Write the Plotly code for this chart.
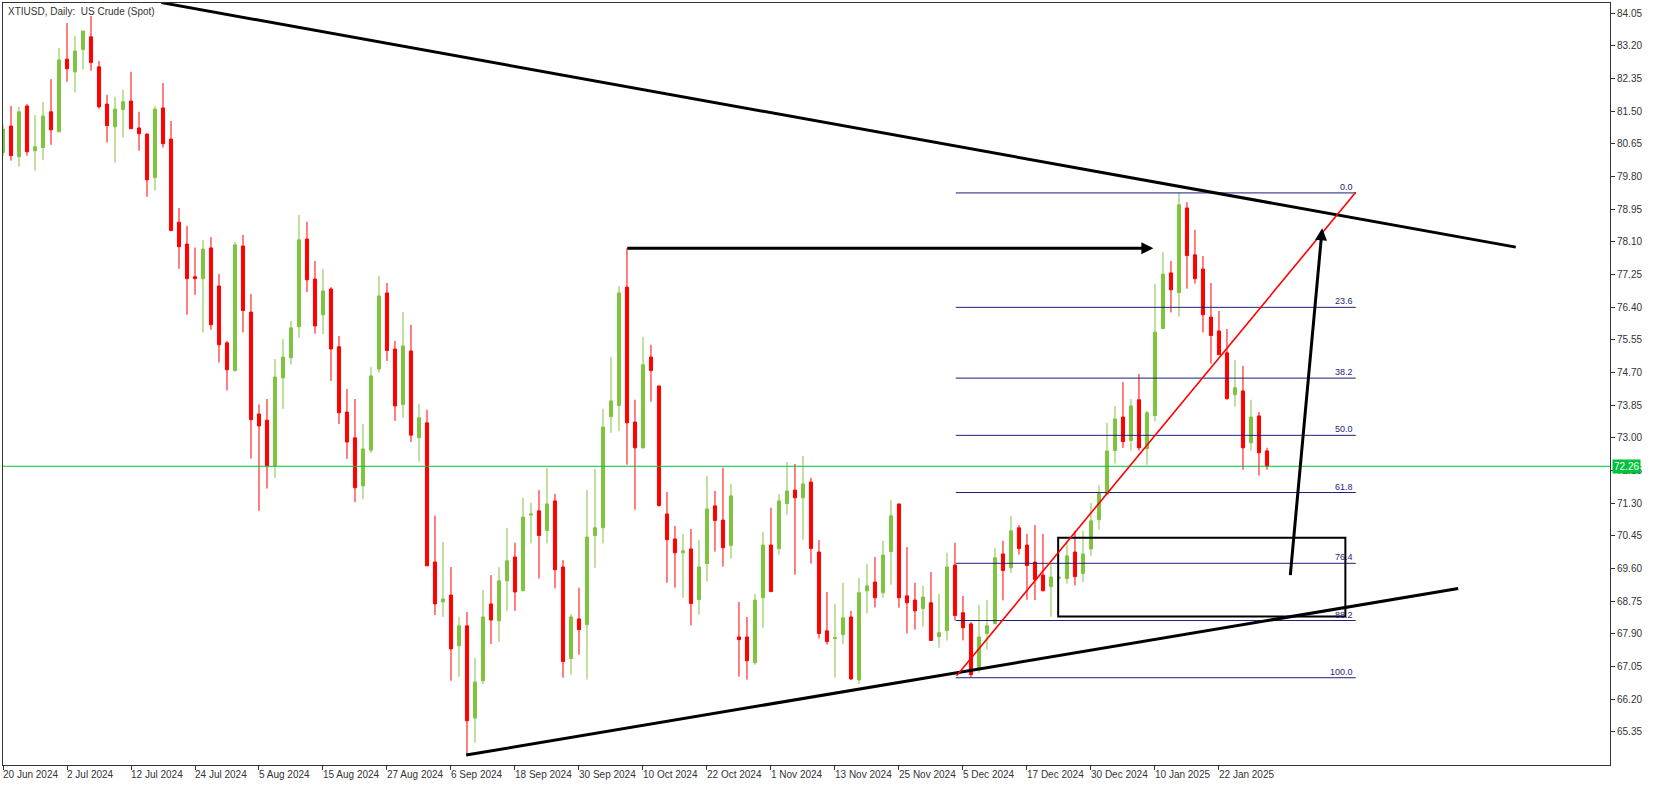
import plotly.graph_objects as go

# ---------------- data ----------------
opens = [80.42, 81.11, 80.31, 81.63, 80.47, 80.55, 81.48, 80.96, 82.85, 82.52,
         83.10, 83.43, 82.65, 81.68, 81.09, 81.54, 81.76, 81.06, 80.90, 79.77,
         81.58, 80.77, 78.61, 78.04, 77.19, 77.14, 77.94, 76.95, 75.47, 74.75,
         77.99, 76.27, 73.62, 73.46, 72.27, 74.56, 75.08, 75.89, 78.17, 77.13,
         76.20, 76.87, 75.37, 73.67, 73.00, 71.75, 72.68, 74.79, 76.77, 75.31,
         73.87, 75.26, 73.00, 73.39, 69.77, 68.73, 68.91, 67.59, 68.11, 65.71,
         66.68, 68.68, 68.24, 69.28, 69.90, 69.02, 70.99, 71.10, 70.59, 71.36,
         69.64, 67.26, 68.29, 68.14, 70.46, 70.66, 73.55, 73.84, 76.92, 73.41,
         72.74, 75.10, 74.35, 71.02, 70.37, 70.01, 70.11, 68.79, 69.73, 71.23,
         70.86, 70.20, 67.82, 67.82, 67.15, 68.84, 70.21, 70.12, 71.29, 71.64,
         71.44, 71.85, 70.03, 67.98, 67.78, 67.88, 68.34, 66.70, 69.02, 69.25,
         68.97, 70.04, 71.28, 68.89, 68.78, 68.56, 68.71, 67.83, 67.99, 69.69,
         68.45, 68.16, 67.00, 67.91, 68.17, 69.98, 69.62, 70.66, 70.21, 69.77,
         69.43, 69.13, 69.35, 69.34, 70.03, 69.47, 70.11, 70.87, 71.53, 72.67,
         73.54, 72.93, 73.99, 72.72, 73.58, 75.84, 77.29, 76.78, 78.98, 77.76,
         77.39, 76.14, 75.78, 75.21, 74.12, 74.22, 72.87, 73.57, 72.66]
highs = [81.14, 81.63, 81.61, 81.68, 81.40, 81.74, 82.33, 83.14, 83.79, 83.45,
         83.58, 83.97, 82.80, 81.92, 81.87, 82.05, 82.52, 81.48, 80.92, 81.63,
         82.23, 81.24, 78.98, 78.51, 77.95, 78.15, 78.22, 77.26, 75.52, 78.09,
         78.28, 76.74, 73.87, 74.01, 75.05, 75.57, 76.04, 78.80, 78.62, 77.60,
         77.39, 76.92, 75.65, 74.27, 74.01, 73.36, 74.84, 77.21, 77.03, 75.52,
         76.27, 75.94, 73.88, 73.73, 70.98, 70.29, 69.64, 68.34, 68.47, 67.27,
         69.04, 69.43, 69.64, 70.66, 70.27, 71.44, 71.31, 71.64, 72.22, 71.54,
         69.82, 68.42, 69.10, 71.64, 72.19, 73.75, 75.10, 76.95, 77.93, 73.99,
         75.62, 75.42, 74.35, 71.59, 70.71, 70.50, 70.63, 70.34, 72.01, 71.62,
         72.22, 71.80, 68.73, 68.34, 68.94, 70.55, 71.18, 71.54, 72.37, 72.32,
         72.53, 71.96, 70.34, 68.99, 68.68, 69.23, 68.50, 69.35, 69.72, 69.90,
         70.32, 71.38, 71.28, 70.16, 69.23, 69.15, 69.51, 68.94, 70.01, 70.27,
         68.89, 68.21, 68.65, 68.78, 70.14, 70.32, 70.97, 70.73, 70.50, 70.73,
         70.50, 69.72, 69.40, 70.32, 70.58, 70.59, 71.31, 71.76, 73.39, 73.83,
         74.45, 74.01, 74.66, 73.70, 77.00, 77.83, 77.60, 79.37, 79.13, 78.41,
         77.73, 77.03, 76.30, 75.83, 75.03, 74.87, 73.99, 73.67, 72.74]
lows = [80.33, 80.21, 80.05, 80.34, 79.95, 80.23, 80.62, 80.95, 82.26, 81.98,
        82.58, 82.55, 81.56, 80.68, 80.16, 80.81, 81.04, 80.47, 79.27, 79.43,
        80.55, 78.39, 77.40, 76.20, 76.72, 75.74, 75.81, 74.96, 74.23, 74.72,
        75.74, 72.46, 71.10, 71.68, 71.96, 73.75, 74.90, 75.60, 76.79, 75.71,
        75.70, 74.48, 73.36, 72.45, 71.33, 71.41, 72.61, 74.70, 75.00, 73.44,
        73.52, 72.89, 72.38, 69.67, 68.39, 68.34, 66.68, 66.78, 64.75, 65.07,
        66.60, 67.64, 67.69, 68.50, 68.50, 69.02, 70.25, 69.34, 70.25, 69.08,
        66.76, 66.84, 67.36, 66.71, 69.62, 70.25, 73.13, 73.18, 72.30, 71.13,
        72.72, 73.94, 71.21, 69.23, 69.10, 68.84, 68.12, 68.40, 69.26, 70.04,
        69.65, 69.86, 66.79, 66.71, 67.10, 68.06, 69.00, 69.96, 71.00, 69.44,
        70.35, 69.73, 67.78, 67.62, 66.76, 67.63, 66.70, 66.60, 68.43, 68.59,
        68.84, 69.18, 68.58, 67.91, 68.01, 68.09, 67.73, 67.54, 67.73, 68.25,
        67.73, 66.76, 66.89, 67.49, 68.14, 68.77, 69.49, 69.96, 68.79, 68.78,
        69.02, 68.35, 69.33, 69.21, 69.16, 69.25, 69.93, 70.61, 71.53, 72.33,
        72.74, 72.67, 72.67, 72.30, 73.42, 75.84, 76.26, 76.15, 76.88, 77.01,
        75.74, 74.93, 75.16, 73.99, 73.81, 72.17, 72.67, 72.02, 72.17]
closes = [81.03, 80.34, 81.48, 80.44, 80.57, 81.37, 81.01, 82.83, 82.60, 83.06,
          83.58, 82.76, 81.61, 81.12, 81.55, 81.74, 81.04, 80.91, 79.71, 81.55,
          80.65, 78.39, 77.97, 77.14, 77.14, 77.91, 75.94, 75.42, 74.77, 78.02,
          76.31, 73.47, 73.31, 72.27, 74.58, 75.10, 75.86, 78.15, 77.11, 75.91,
          76.82, 75.31, 73.65, 72.89, 71.70, 72.71, 74.61, 76.69, 75.27, 73.83,
          75.39, 73.07, 73.52, 69.67, 68.68, 68.81, 67.51, 68.11, 65.64, 66.65,
          68.34, 68.26, 69.28, 69.80, 68.99, 70.94, 71.02, 70.46, 71.28, 69.57,
          67.18, 68.34, 68.01, 70.42, 70.66, 73.28, 73.96, 76.77, 73.39, 72.74,
          74.90, 74.75, 71.24, 70.35, 70.01, 70.06, 68.69, 69.64, 71.15, 70.85,
          70.14, 71.49, 67.75, 67.20, 68.78, 70.21, 69.00, 71.36, 71.62, 71.44,
          71.80, 70.12, 67.91, 67.70, 67.80, 68.32, 66.73, 68.97, 69.15, 68.84,
          69.95, 70.97, 68.84, 68.71, 68.50, 68.86, 67.73, 67.93, 69.64, 68.38,
          68.06, 66.84, 67.82, 68.11, 69.88, 69.55, 70.58, 70.12, 69.68, 69.31,
          69.02, 69.38, 69.37, 69.93, 69.39, 69.98, 70.84, 71.55, 72.66, 73.49,
          72.90, 73.83, 72.74, 73.65, 75.75, 77.26, 76.85, 79.06, 77.74, 77.14,
          76.20, 75.66, 75.16, 74.02, 74.30, 72.74, 73.54, 72.61, 72.26]

x_tick_bars = [0, 8, 16, 24, 32, 40, 48, 56, 64, 72, 80, 88, 96, 104, 112, 120, 128, 136, 144, 152]
x_tick_labels = ["20 Jun 2024", "2 Jul 2024", "12 Jul 2024", "24 Jul 2024", "5 Aug 2024",
                 "15 Aug 2024", "27 Aug 2024", "6 Sep 2024", "18 Sep 2024", "30 Sep 2024",
                 "10 Oct 2024", "22 Oct 2024", "1 Nov 2024", "13 Nov 2024", "25 Nov 2024",
                 "5 Dec 2024", "17 Dec 2024", "30 Dec 2024", "10 Jan 2025", "22 Jan 2025"]
y_tick_values = [84.05, 83.20, 82.35, 81.50, 80.65, 79.80, 78.95, 78.10, 77.25, 76.40,
                 75.55, 74.70, 73.85, 73.00, 72.15, 71.30, 70.45, 69.60, 68.75, 67.90,
                 67.05, 66.20, 65.35]
last_price = 72.26

# drawing objects (bar index, price)
resistance_line = [(19.8, 84.32), (189.1, 77.96)]
support_line = [(57.9, 64.75), (181.9, 69.08)]
red_line = [(119.2, 66.81), (169.1, 79.39)]
h_arrow = [(77.85, 77.93), (143.8, 77.93)]
up_arrow = [(160.9, 69.39), (164.9, 78.45)]
zone_box = [(131.9, 68.35), (167.8, 70.40)]
fib_span = (119.1, 169.1)
fib_high = 79.37
fib_low = 66.76
fib_ratios = [0.0, 23.6, 38.2, 50.0, 61.8, 76.4, 88.2, 100.0]

# ---------------- figure ----------------
bars = list(range(len(opens)))
FONT = "Liberation Sans, Arial, sans-serif"
GREEN = "#80C342"
RED = "#FF0000"
FIB = "#1E1E78"
PRICE_GREEN = "#00C23A"

fig = go.Figure()
fig.add_trace(go.Candlestick(
    x=bars, open=opens, high=highs, low=lows, close=closes,
    increasing=dict(line=dict(color=GREEN, width=1), fillcolor=GREEN),
    decreasing=dict(line=dict(color=RED, width=1), fillcolor=RED),
    whiskerwidth=0, showlegend=False, hoverinfo="skip",
))

shapes = []
shapes.append(dict(type="line", xref="paper", x0=0, x1=1, yref="y", y0=last_price, y1=last_price,
                   line=dict(color=PRICE_GREEN, width=1)))
for r in fib_ratios:
    lvl = fib_high - (fib_high - fib_low) * r / 100.0
    shapes.append(dict(type="line", xref="x", yref="y", x0=fib_span[0], x1=fib_span[1], y0=lvl, y1=lvl,
                       line=dict(color=FIB, width=1)))
shapes.append(dict(type="rect", xref="x", yref="y",
                   x0=zone_box[0][0], x1=zone_box[1][0], y0=zone_box[0][1], y1=zone_box[1][1],
                   line=dict(color="black", width=2), fillcolor="rgba(0,0,0,0)"))
for seg, col, w in [(resistance_line, "black", 3), (support_line, "black", 3), (red_line, RED, 1.6)]:
    shapes.append(dict(type="line", xref="x", yref="y", x0=seg[0][0], y0=seg[0][1], x1=seg[1][0], y1=seg[1][1],
                       line=dict(color=col, width=w)))

annotations = []
for r in fib_ratios:
    lvl = fib_high - (fib_high - fib_low) * r / 100.0
    annotations.append(dict(x=fib_span[1], y=lvl, xref="x", yref="y", text=f"{r:.1f}", showarrow=False,
                            xanchor="right", yanchor="bottom", xshift=-2, yshift=0,
                            font=dict(family=FONT, size=9, color=FIB), borderpad=0))
for seg in [h_arrow, up_arrow]:
    annotations.append(dict(x=seg[1][0], y=seg[1][1], ax=seg[0][0], ay=seg[0][1],
                            xref="x", yref="y", axref="x", ayref="y", text="", showarrow=True,
                            arrowhead=2, arrowsize=0.8, arrowwidth=3, arrowcolor="black", standoff=0))
for b, lab in zip(x_tick_bars, x_tick_labels):
    annotations.append(dict(x=b, y=0, xref="x", yref="paper", text=lab, showarrow=False,
                            xanchor="left", yanchor="top", yshift=-3, xshift=-1,
                            font=dict(family=FONT, size=10, color="#333333"), borderpad=0))
annotations.append(dict(x=0, y=1, xref="paper", yref="paper", text="XTIUSD, Daily:  US Crude (Spot)",
                        showarrow=False, xanchor="left", yanchor="top", xshift=3, yshift=-1,
                        font=dict(family=FONT, size=10, color="#333333")))
annotations.append(dict(x=1, y=last_price, xref="paper", yref="y", text=f"{last_price:.2f}", showarrow=False,
                        xanchor="left", yanchor="middle", xshift=2, bgcolor=PRICE_GREEN,
                        font=dict(family=FONT, size=10, color="white"), borderpad=1))

fig.update_layout(
    width=1653, height=786, autosize=False,
    margin=dict(l=3, r=43, t=3, b=21),
    paper_bgcolor="white", plot_bgcolor="white",
    font=dict(family=FONT, size=10, color="#333333"),
    boxgap=0.45,
    showlegend=False,
    shapes=shapes, annotations=annotations,
    xaxis=dict(range=[0.0, 200.88], rangeslider=dict(visible=False), showgrid=False, zeroline=False,
               tickmode="array", tickvals=x_tick_bars, showticklabels=False, ticks="outside", ticklen=4,
               tickcolor="#333333", showline=True, linecolor="#333333", linewidth=1, mirror=True),
    yaxis=dict(range=[64.49, 84.31], side="right", showgrid=False, zeroline=False,
               tickmode="array", tickvals=y_tick_values, ticktext=[f"{v:.2f}" for v in y_tick_values],
               ticks="outside", ticklen=4, tickcolor="#333333",
               showline=True, linecolor="#333333", linewidth=1, mirror=True,
               tickfont=dict(family=FONT, size=10, color="#333333")),
    hovermode=False,
)

fig.write_html("out.html", config={"displayModeBar": False},
               post_script="document.body.style.margin='0';document.body.style.padding='0';"
                           "document.body.style.overflow='hidden';")
